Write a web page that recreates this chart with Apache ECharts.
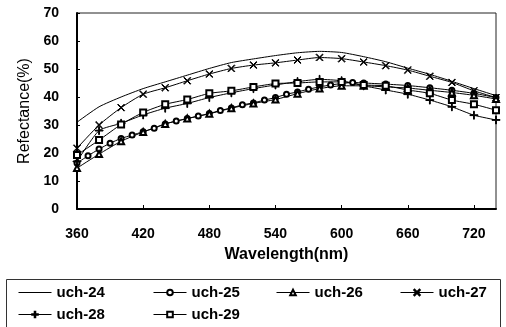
<!DOCTYPE html>
<html>
<head>
<meta charset="utf-8">
<script src="https://cdn.jsdelivr.net/npm/echarts@6/dist/echarts.min.js"></script>
<style>
  html, body {margin: 0; padding: 0; background: #fff;}
  #chart {width: 506px; height: 327px;}
</style>
</head>
<body>
<div id="chart"></div>
<script>
// wavelengths (nm)
const wl = [360, 380, 400, 420, 440, 460, 480, 500, 520, 540, 560, 580, 600, 620, 640, 660, 680, 700, 720, 740];
const wl25 = [360, 370, 380, 390, 400, 410, 420, 430, 440, 450, 460, 470, 480, 490, 500, 510, 520, 530, 540, 550, 560, 570, 580, 590, 600, 610, 620, 640, 660, 680, 700, 720, 740];

// reflectance (%)
const uch24 = [31, 36.5, 40, 43, 45.4, 47.8, 50.2, 52.3, 53.6, 54.8, 55.8, 56.3, 55.9, 54.4, 52.6, 50.3, 48.1, 45.6, 43, 40.5];
const uch25 = [16.4, 19, 21.4, 23.5, 25.2, 26.4, 27.6, 28.8, 30.4, 31.4, 32.3, 33.2, 34.1, 35.2, 36.1, 37.2, 37.9, 38.9, 39.8, 41, 41.8, 42.8, 43.6, 44.3, 44.8, 45.2, 45, 44.6, 44.1, 43.3, 42.4, 41.3, 39.8];
const uch26 = [14.6, 19.6, 24.2, 27.5, 30.4, 32.3, 34, 36, 37.7, 39.1, 41.2, 43, 44, 44, 43.6, 43.2, 42.4, 41.6, 40.6, 39.3];
const uch27 = [21.7, 30, 36.2, 41, 43.3, 45.8, 48.2, 50.2, 51.4, 52.2, 53.2, 54.1, 53.7, 52.5, 51.2, 49.6, 47.4, 45.2, 42.2, 39.8];
const uch28 = [17, 28, 30.6, 33.6, 36, 37.7, 39.8, 41.5, 43, 44.3, 45.5, 46.3, 45.8, 44, 42.5, 41, 38.9, 36.5, 33.5, 31.8];
const uch29 = [19.3, 24.6, 30.2, 34.5, 37.4, 39.1, 41.3, 42.2, 43.6, 44.8, 45, 45.4, 45.4, 44.3, 44, 42.5, 41.3, 38.9, 37.4, 35.3];

const yTicks = [0, 10, 20, 30, 40, 50, 60, 70];
const xTicks = [360, 420, 480, 540, 600, 660, 720];

const plusPath = 'path://M4.5,0H5.5V4.5H10V5.5H5.5V10H4.5V5.5H0V4.5H4.5Z';
const crossPath = 'path://M0.7,0L5,4.3L9.3,0L10,0.7L5.7,5L10,9.3L9.3,10L5,5.7L0.7,10L0,9.3L4.3,5L0,0.7Z';

const pairs = (xs, ys) => xs.map((x, i) => [x, ys[i]]);

const series = [
  {name: 'uch-24', data: pairs(wl, uch24), symbol: 'none'},
  {name: 'uch-25', data: pairs(wl25, uch25), symbol: 'emptyCircle', symbolSize: 5},
  {name: 'uch-26', data: pairs(wl, uch26), symbol: 'emptyTriangle', symbolSize: 6},
  {name: 'uch-27', data: pairs(wl, uch27), symbol: crossPath, symbolSize: 7},
  {name: 'uch-28', data: pairs(wl, uch28), symbol: plusPath, symbolSize: 8},
  {name: 'uch-29', data: pairs(wl, uch29), symbol: 'emptyRect', symbolSize: 6}
].map(s => ({
  ...s,
  type: 'line',
  smooth: 0.2,
  color: '#000',
  lineStyle: {color: '#000', width: 1},
  itemStyle: {color: '#000', borderColor: '#000', borderWidth: 1},
  z: 3
}));

const legendText = {color: '#000', fontFamily: 'Liberation Sans', fontWeight: 'bold', fontSize: 15};
const legendCol = (left, names) => ({
  orient: 'vertical',
  left: left,
  top: 285,
  itemGap: 7,
  itemWidth: 33,
  itemHeight: 7,
  padding: 0,
  lineStyle: {width: 1},
  textStyle: legendText,
  data: names.map(n => (n === 'uch-24' ? {name: n, itemStyle: {opacity: 0}} : n))
});

const chart = echarts.init(document.getElementById('chart'));
chart.setOption({
  animation: false,
  backgroundColor: '#fff',
  grid: {
    left: 77, right: 10, top: 13, bottom: 118,
    show: true, borderColor: '#222', borderWidth: 1
  },
  xAxis: {
    type: 'value',
    min: xTicks[0],
    max: 740,
    interval: 60,
    name: 'Wavelength(nm)',
    nameLocation: 'middle',
    nameGap: 38,
    nameTextStyle: {color: '#000', fontFamily: 'Liberation Sans', fontWeight: 'bold', fontSize: 16},
    axisLine: {lineStyle: {color: '#000', width: 2}},
    axisTick: {inside: true, length: 4, lineStyle: {color: '#000'}},
    splitLine: {show: false},
    axisLabel: {
      color: '#000', fontFamily: 'Liberation Sans', fontWeight: 'bold', fontSize: 14,
      margin: 18, showMaxLabel: false,
      formatter: v => (xTicks.includes(v) ? String(v) : '')
    }
  },
  yAxis: {
    type: 'value',
    min: yTicks[0],
    max: yTicks[yTicks.length - 1],
    interval: 10,
    name: 'Refectance(%)',
    nameLocation: 'middle',
    nameGap: 44,
    nameTextStyle: {color: '#000', fontFamily: 'Liberation Sans', fontSize: 16},
    axisLine: {show: true, lineStyle: {color: '#000', width: 2}},
    axisTick: {show: true, inside: true, length: 3, lineStyle: {color: '#000'}},
    splitLine: {show: false},
    axisLabel: {color: '#000', fontFamily: 'Liberation Sans', fontWeight: 'bold', fontSize: 14, margin: 18}
  },
  legend: [
    legendCol(18, ['uch-24', 'uch-28']),
    legendCol(153, ['uch-25', 'uch-29']),
    legendCol(276, ['uch-26']),
    legendCol(400, ['uch-27'])
  ],
  graphic: [{
    type: 'rect',
    shape: {x: 6.5, y: 279.5, width: 494, height: 60},
    style: {fill: 'none', stroke: '#333', lineWidth: 1},
    z: 0
  }],
  series: series
});
</script>
</body>
</html>
